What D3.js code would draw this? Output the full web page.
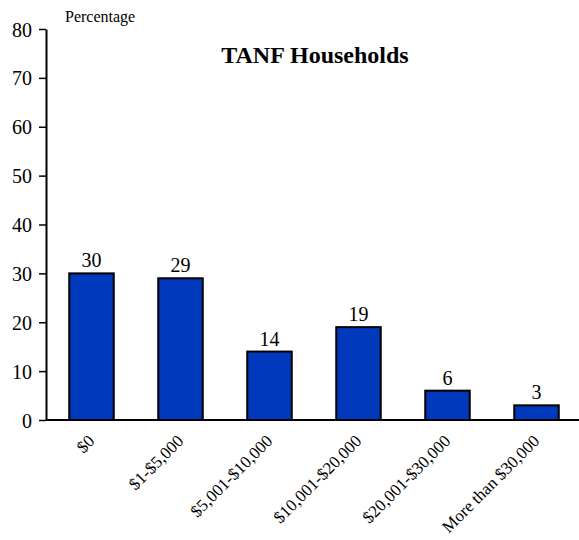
<!DOCTYPE html>
<html>
<head>
<meta charset="utf-8">
<script src="https://cdn.jsdelivr.net/npm/d3@7"></script>
<style>
body { margin:0; background:#fff; }
svg text { font-family:"Liberation Serif", "Times New Roman", Times, serif !important; }
</style>
</head>
<body>
<svg></svg>
<script>
var screen = {width:579,height:540}
var margins = {top:29,right:0,bottom:121,left:47}
var serif = "Liberation Serif, Times New Roman, serif"

var categories = ["$0","$1-$5,000","$5,001-$10,000","$10,001-$20,000","$20,001-$30,000","More than $30,000"]
var percents = [30,29,14,19,6,3]
var yTicks = [0,10,20,30,40,50,60,70,80]

var width = screen.width - margins.left - margins.right + 2
var height = screen.height - margins.top - margins.bottom + 1

var svg = d3.select("svg")
  .attr("width",screen.width)
  .attr("height",screen.height)
  .attr("font-family",serif)

var graph = svg.append("g")
  .attr("transform","translate("+margins.left+","+margins.top+")")

var xScale = d3.scaleBand()
  .domain(categories)
  .range([0,width])
  .paddingInner(0.5)
  .paddingOuter(0.25)

var yScale = d3.scaleLinear()
  .domain([0,80])
  .range([height,0])

// y axis
var yAxis = graph.append("g")
  .attr("transform","translate(-1,0)")
  .call(d3.axisLeft(yScale).tickValues(yTicks).tickSize(7).tickSizeOuter(0))
yAxis.attr("font-family",serif)
yAxis.select(".domain").attr("stroke-width",2)
yAxis.selectAll("line").attr("stroke-width",1.5)
yAxis.selectAll("text")
  .attr("font-size","20px")
  .attr("font-family",serif)
  .attr("fill","#000")
  .attr("dx","-4")
  .attr("dy","0.35em")
  .attr("y",0)

// bars
graph.selectAll("rect.bar")
  .data(percents)
  .enter()
  .append("rect")
  .attr("class","bar")
  .attr("x",function(d,i){return xScale(categories[i])})
  .attr("y",function(d){return yScale(d)})
  .attr("width",xScale.bandwidth())
  .attr("height",function(d){return height - yScale(d)})
  .attr("fill","#0039bb")
  .attr("stroke","#000")
  .attr("stroke-width",2)

// value labels
graph.selectAll("text.val")
  .data(percents)
  .enter()
  .append("text")
  .attr("class","val")
  .attr("x",function(d,i){return xScale(categories[i]) + xScale.bandwidth()/2})
  .attr("y",function(d){return yScale(d) - 6})
  .attr("text-anchor","middle")
  .attr("font-size","20px")
  .text(function(d){return d})

// x axis line
graph.append("line")
  .attr("x1",-1).attr("x2",width)
  .attr("y1",height).attr("y2",height)
  .attr("stroke","#000").attr("stroke-width",2)

// x labels
graph.selectAll("text.cat")
  .data(categories)
  .enter()
  .append("text")
  .attr("class","cat")
  .attr("transform",function(d){
    var cx = xScale(d) + xScale.bandwidth()/2 + 4
    return "translate("+cx+","+(height+22)+") rotate(-45)"
  })
  .attr("text-anchor","end")
  .attr("font-size","17px")
  .text(function(d){return d})

// title and y label
svg.append("text")
  .attr("x",315).attr("y",63)
  .attr("text-anchor","middle")
  .attr("font-size","24px")
  .attr("font-weight","bold")
  .text("TANF Households")

svg.append("text")
  .attr("x",65).attr("y",22)
  .attr("font-size","16px")
  .text("Percentage")
</script>
</body>
</html>
